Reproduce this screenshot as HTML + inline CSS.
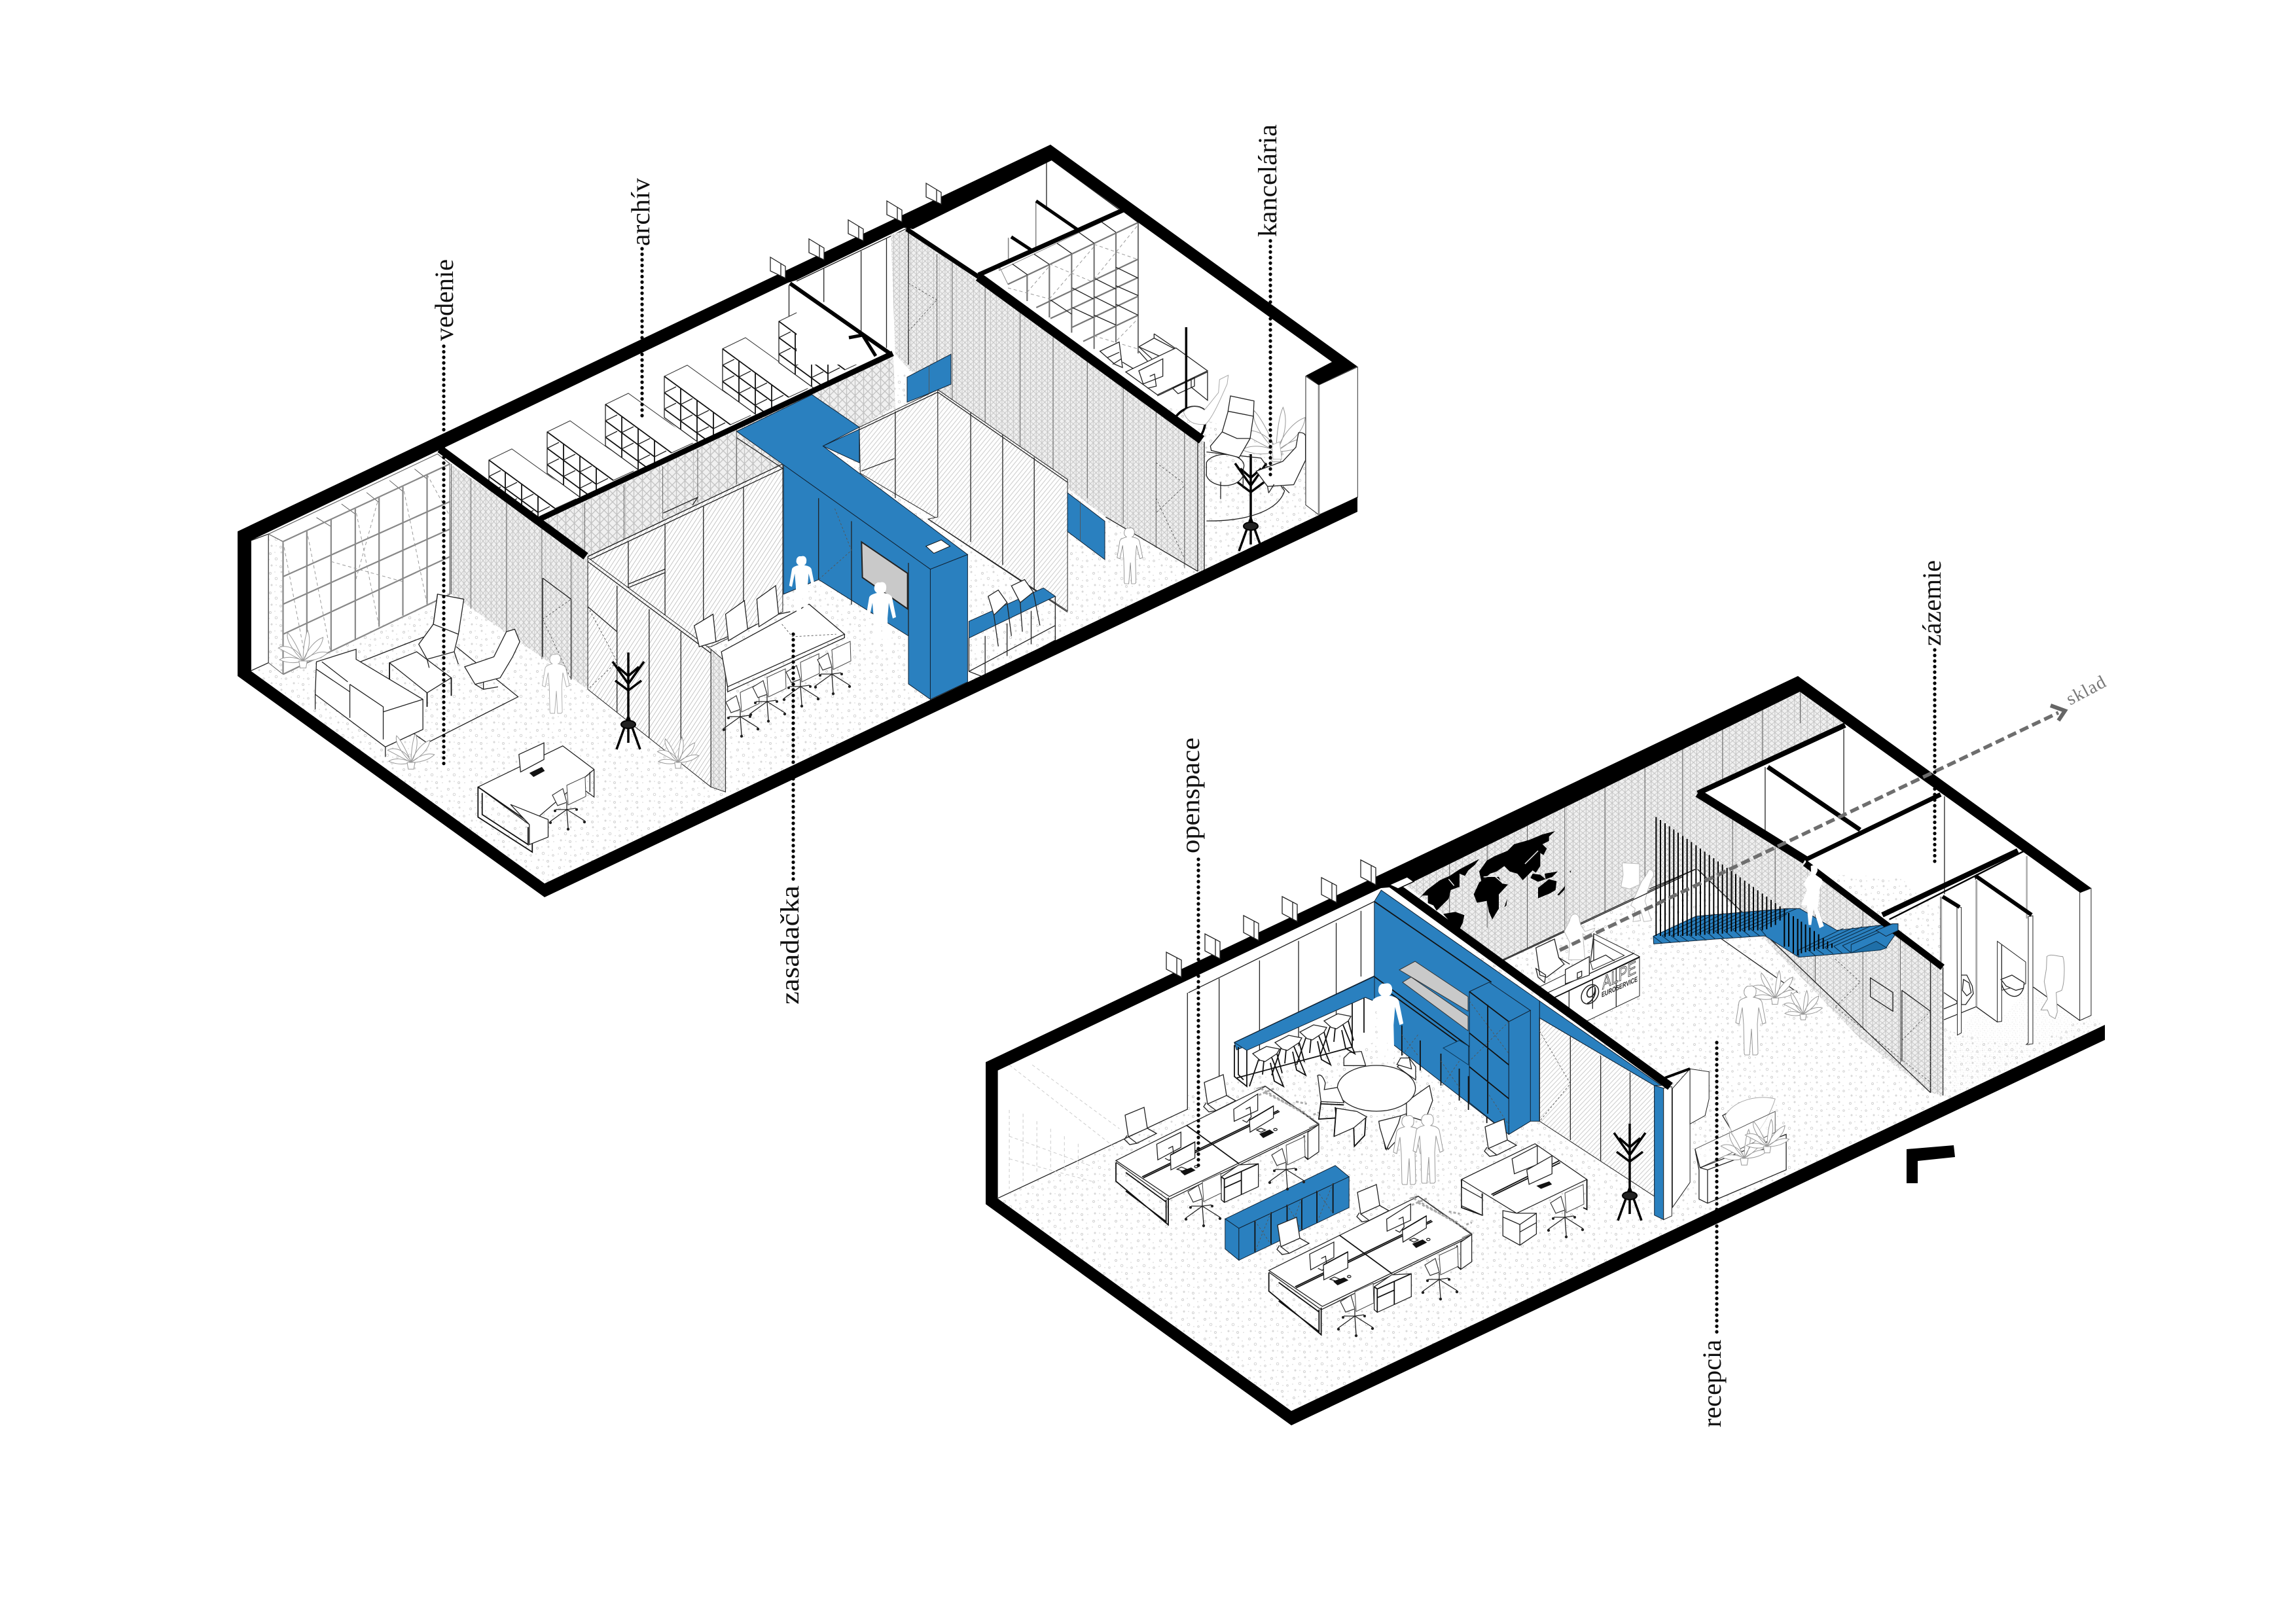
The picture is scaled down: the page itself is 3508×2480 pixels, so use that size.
<!DOCTYPE html>
<html><head><meta charset="utf-8"><title>Isometric office plan</title>
<style>
html,body{margin:0;padding:0;background:#fff}
svg{display:block}
.k *{vector-effect:non-scaling-stroke}
.l{fill:none;stroke:#222;stroke-width:1.3}
.t{fill:none;stroke:#555;stroke-width:.9}
.w{fill:#fff;stroke:#222;stroke-width:1.3}
.b{fill:#2a80bf;stroke:#123;stroke-width:1}
.h{fill:none;stroke:#111;stroke-width:1.8}
.g{fill:none;stroke:#999;stroke-width:1;stroke-dasharray:5 4}
.pl{fill:#fff;stroke:#aaa;stroke-width:1}
.lb{font-family:"Liberation Serif",serif;font-size:40px;fill:#111}
.dot{fill:none;stroke:#000;stroke-width:5.2;stroke-linecap:round;stroke-dasharray:.1 8.4}
</style></head><body>
<svg width="3508" height="2480" viewBox="0 0 3508 2480" xmlns="http://www.w3.org/2000/svg">
<defs>
<pattern id="sp" width="34" height="30" patternUnits="userSpaceOnUse">
<g fill="none" stroke="#cfcfcf" stroke-width=".9"><circle cx="5" cy="6" r="1.5"/><circle cx="22" cy="4" r="1"/><circle cx="14" cy="14" r="1.8"/><circle cx="29" cy="17" r="1.3"/><circle cx="7" cy="24" r="1"/><circle cx="21" cy="26" r="1.5"/></g>
<g fill="#d2d2d2"><circle cx="12" cy="4" r=".8"/><circle cx="28" cy="9" r=".8"/><circle cx="3" cy="15" r=".8"/><circle cx="22" cy="17" r=".8"/><circle cx="14" cy="24" r=".8"/><circle cx="30" cy="26" r=".8"/></g>
</pattern>
<pattern id="pf" width="13" height="13" patternUnits="userSpaceOnUse">
<rect width="13" height="13" fill="#f0f0f0"/><path d="M0 0L6.5 6.5L13 0M0 13L6.5 6.5L13 13M6.5 0V13" fill="none" stroke="#c2c2c2" stroke-width="1.3"/>
</pattern>
<pattern id="gl" width="8" height="8" patternUnits="userSpaceOnUse" patternTransform="rotate(-52)">
<rect width="8" height="8" fill="#fff"/><path d="M0 4H8" stroke="#c0c0c0" stroke-width="1.3"/>
</pattern>

<g id="oc" class="k">
<path fill="#fff" stroke="#444" stroke-width="1" d="M0 -37L28 -50L29 -20L2 -7Z"/>
<path fill="#fff" stroke="#333" stroke-width="1.2" d="M-22 -22L-6 -32L0 -11L-14 -6Z"/>
<path class="l" d="M0 -10V0M0 0L-25 18M0 0L2 28M0 0L27 17M0 0L14 -2M0 0L-17 0"/>
<g fill="#222"><circle cx="-25" cy="20" r="2.2"/><circle cx="2" cy="30" r="2.2"/><circle cx="27" cy="19" r="2.2"/><circle cx="15" cy="0" r="2"/><circle cx="-18" cy="2" r="2"/></g>
</g>
<g id="rc" class="k">
<path class="w" d="M-13 -23L16 -35L21 -3L-8 10Z"/>
<path class="l" d="M21 -3L35 5L5 20L-8 10M-10 8L-14 14L-6 22L5 20"/>
</g>
<g id="stool" class="k">
<path class="w" d="M-19 0L2 -11L22 -7L18 0L0 12L-8 10Z"/>
<path class="h" stroke-width="1.5" d="M-10 9L-24 50M-2 11L-4 32M10 6L28 50L14 42L8 14M18 0L26 30"/>
</g>
<path id="pn" d="M-3 -100c6 -2 10 3 9 9c0 4 -2 6 -4 7c5 1 11 2 13 7l6 30l-5 2l-6 -24l-2 24l1 43l-2 2h-6l-2 -38l-3 38h-7l-1 -2l-1 -43l-2 -24l-5 24l-5 -2l5 -30c1 -4 8 -6 12 -7c-3 -2 -5 -5 -4 -9c0 -4 3 -6 5 -7z"/>
<g id="rack" class="k" fill="none" stroke="#000" stroke-width="3.5">
<path d="M0 -118V0M0 -20L-18 30M0 -20L18 30M0 -20L0 20M0 -70L-24 -104M0 -70L24 -104M0 -82L-16 -96M0 -82L16 -96M0 -60L-20 -75M0 -60L20 -75"/>
<ellipse cx="0" cy="-8" rx="11" ry="6" fill="#222" stroke-width="2"/>
</g>
<g id="plant" class="k" fill="#fff" stroke="#999" stroke-width="1">
<path d="M0 0C-6 -20 -30 -30 -42 -22C-30 -16 -16 -8 0 0ZM0 0C-10 -26 -20 -42 -26 -48C-30 -36 -16 -16 0 0ZM0 0C0 -22 4 -44 8 -52C14 -36 10 -16 0 0ZM0 0C8 -22 22 -36 34 -40C32 -22 16 -10 0 0ZM0 0C14 -12 30 -18 42 -14C32 -4 16 0 0 0ZM0 0C-14 -8 -32 -8 -40 -2C-26 4 -12 4 0 0Z"/>
<path d="M-7 0h14l-2 12h-10z"/>
</g>
<g id="sh" class="k">
<path fill="#fff" stroke="#333" stroke-width="1" d="M0 0L35 -17L138 57L101 74Z"/>
<path fill="#fff" d="M0 0L101 74V130H75L0 63Z"/>
<path class="h" stroke-width="1.7" d="M0 0L101 74M0 25L75 80M0 50L75 105M25 18V81M50 36V99M75 55V118"/>
<path class="l" d="M0 0V63L75 118M0 25L18 16M25 43L43 34M50 61L68 52M75 80L93 71M0 50L18 41M25 68L43 59M50 86L68 77"/>
</g>
<g id="cluster" class="k">
<path class="w" d="M-45 640L640 300L885 475L200 805Z"/>
<path class="h" d="M75 715L700 410M80 720L705 415M278 478L520 655"/>
<path class="l" d="M-45 648L195 820L885 482"/>
<path class="h" stroke-width="2" d="M-45 650V735L195 935V810M0 780L185 920V820M0 695L185 830"/>
<path class="w" d="M835 510L885 475V600L835 635Z"/>
<path class="h" d="M818 525V620L835 635"/>
<path class="w" d="M438 715L518 660L608 655V760L452 832L438 820Z"/>
<path class="h" d="M438 715L452 725L608 655M452 725V832M530 690V795M452 765L530 730"/>
<path class="w" d="M142 565L253 510V580L147 637Z"/>
<path class="l" d="M195 585L215 575L220 615L200 640L180 630"/>
<path class="w" d="M205 615L317 555V628L207 683Z"/>
<path class="h" d="M205 615L317 555"/>
<path class="w" d="M495 405L605 335V410L497 460Z"/>
<path class="l" d="M550 405L570 395L575 440L555 465L535 455"/>
<path class="w" d="M567 455L677 390V445L570 510Z"/>
<path class="h" d="M567 455L677 390"/>
<path class="l" d="M235 680L255 670L280 680L260 688ZM600 500L620 492L640 500L620 510ZM315 668a8 5 0 1 0 16 0a8 5 0 1 0 -16 0M678 498a8 5 0 1 0 16 0a8 5 0 1 0 -16 0"/>
<path fill="#111" d="M250 690L300 672L320 685L270 708ZM612 518L660 498L680 512L630 537Z"/>
<path fill="none" stroke="#aaa" stroke-width="3" stroke-dasharray="4 3" d="M620 310L860 450M640 330L820 420M610 340L680 310M780 370L830 380M860 430L885 420"/>
<path class="t" d="M600 310L640 298L885 470L840 490"/>
</g>
</defs>

<!-- ============ FLOORS ============ -->
<polygon fill="url(#sp)" points="383,1025 832,1350 1640,970 2074,760 2074,745 1995,700 1840,640 1780,620 1400,560 900,800 383,820"/>
<polygon fill="url(#sp)" points="1524,1831 1813,1695 1813,1670 1905,1628 2100,1530 2300,1400 2600,1330 2900,1340 3140,1510 3215,1566 1973,2156"/>

<!-- ============ TOP PLAN, BACK ============ -->
<g class="k" transform="translate(340,200) scale(.6378,.7653)">
<path class="w" d="M68 818L110 805V1062L68 1078Z"/>
<path fill="#fff" d="M145 820L545 665V920L145 1085Z"/>
<path fill="#fff" stroke="#666" stroke-width="1.2" d="M110 805L515 645L545 665L145 820Z"/>
<path class="t" d="M110 805V1062L145 1085M225 772L260 790M285 745L318 765M345 722L375 742M400 698L432 720M460 675L490 695"/>
<g fill="none" stroke="#888" stroke-width="2.2">
<path d="M145 820V1085M202 798V1062M260 775V1038M318 752V1015M375 730V990M432 708V968M490 686V945M545 665V925"/>
<path d="M145 890L545 740M145 945L545 795M145 1005L545 850M145 1085L545 925M145 820L545 665"/>
</g>
<path class="g" d="M145 820L200 1060M202 798L258 1038M318 752L375 990M432 708L490 945M490 686L545 770M260 860L432 900M375 730L318 900"/>
<path fill="#fff" d="M530 640L1355 300L1540 455L770 775Z"/>
<path class="l" d="M1357 308V395"/>
</g>

<!-- archive shelf units -->
<use href="#sh" x="747" y="703"/><use href="#sh" x="836" y="660"/><use href="#sh" x="925" y="618"/><use href="#sh" x="1015" y="575"/><use href="#sh" x="1104" y="533"/><use href="#sh" x="1190" y="491"/>

<g class="k" transform="translate(1100,200) scale(.6697,.6378)">
<path fill="#fff" d="M175 360L430 232V560H175Z"/>
<path class="l" d="M175 360L430 232M237 330V410M322 288V480M380 258V520M425 238V530"/>
<path class="l" d="M745 75V190M757 70L910 188"/>
</g>

<!-- kancelaria detail -->
<g class="k" transform="translate(1540,300) scale(.3333)">
<path d="M128 25V235M2 190V300" stroke="#888" stroke-width="1.6" fill="none"/>
<path d="M0 403L597 120V720L400 720L0 470Z" fill="#fff"/>
<path d="M-40 320L0 403L597 120L530 70L-40 340Z" fill="#fff" stroke="#888" stroke-width="1"/>
<g fill="none" stroke="#777" stroke-width="2.2">
<path d="M0 403L597 120M88 360V480M190 312V555M292 262V625M395 215V700M495 165V670M597 120V720"/>
<path d="M130 510L597 288M195 560L597 372M295 600L597 458M345 665L597 545"/>
</g>
<path class="l" stroke="#444" d="M20 310L90 360M120 265L190 312M225 215L292 262M325 165L395 215M430 118L495 165M530 70L597 120M195 475L292 540M295 420L392 470M395 375L495 425M495 325L597 375M295 510L392 555M395 460L495 510M495 410L597 455M395 545L495 590M495 495L597 545"/>
<path class="g" d="M0 420L190 470M190 310L395 395M190 470L395 230M395 220L597 290M395 380L597 130M88 440L190 320M395 640L597 700M500 660L597 560"/>
<path class="w" d="M600 690L670 650L765 700L700 735Z"/>
<path class="l" d="M670 630L765 695M670 630V650M600 690L660 745M600 710L640 755"/>
<path class="w" d="M540 805L770 695L915 800L685 910Z"/>
<path class="l" d="M685 915L915 805V935L840 875V835M755 880L855 830V870L780 905Z"/>
<path class="w" d="M422 710L510 668L525 785L490 770Z"/>
<path class="l" d="M525 760L575 790M455 740L510 715M480 770L520 745"/>
<path class="w" d="M600 800L710 745V825L620 860Z"/>
<path class="l" d="M650 825L672 815L680 870L640 880"/>
</g>

<!-- perforated big right wall & partition -->
<g class="k" transform="translate(1100,200) scale(.6697,.6378)">
<path fill="url(#pf)" d="M390 248L430 238L1105 745V1058L1090 1055L880 925L430 570L400 535Z"/>
<path class="t" d="M495 295V590M530 315V646M605 371V703M685 431V764M760 487V821M838 545V880M920 606V942M995 663V999M1060 711V1048"/>
<path class="l" d="M1090 735V1055M1105 745V1058M430 240V560M1090 1055L880 925"/>
<path class="t" stroke-dasharray="3 3" d="M430 480L495 405M430 365L495 405M430 365V480M995 795L1060 845V1030M995 795V915L1060 850M995 880L1060 1025"/>
<path fill="url(#pf)" d="M38 720L395 535L400 660L318 710L235 755L145 800Z"/>
<path class="t" d="M240 633V750M300 598V710M360 560V680"/>
</g>

<!-- archive perf wall, real coords -->
<polygon fill="url(#pf)" points="825,793 1364,540 1367,620 1312,650 1195,720 895,860"/>
<g class="k" transform="translate(740,560) scale(.3333)">
<path class="t" d="M460 625V850M640 540V800M818 458V700M978 380V620M1157 290V540"/>
<path class="l" d="M820 672L978 600L955 635"/>
</g>

<!-- ============ LEFT GLASS ROOM ============ -->
<g class="k" transform="translate(340,200) scale(.6378,.7653)">
<path fill="url(#pf)" d="M545 665L875 850V1115L548 925Z"/>
<path class="t" d="M595 694V954M680 743V1005M765 793V1055M835 833V1096M548 665V925"/>
<path class="l" d="M767 893L835 935V1095M767 893V1050"/>
<path class="t" stroke-dasharray="3 3" d="M767 975L835 935M767 975L835 1095"/>
<path fill="url(#gl)" stroke="#222" d="M875 850L1342 665V960L1170 1030H875Z"/>
<path class="l" d="M875 850L1342 665M875 858L1342 674M972 820V1030M1060 785V1030M1152 750V1030M1248 712V985M972 905L1060 875M972 912L1060 882"/>
<path fill="url(#gl)" stroke="#222" d="M875 852L1170 1035V1310L875 1115Z"/>
<path class="l" d="M875 860L1170 1043M945 908V1160M1022 955V1212M1098 1000V1262M875 950L945 1000"/>
<path class="t" stroke-dasharray="3 3" d="M875 950L945 1060L875 1115"/>
<path fill="url(#pf)" stroke="#222" d="M1170 1035L1205 1060V1320L1170 1310Z"/>
<path class="w" d="M1195 1040L1405 945L1490 1005L1210 1110Z"/>
<path class="l" d="M1210 1110V1120L1490 1012V1005"/>
<path class="t" stroke-dasharray="3 3" d="M1340 985L1365 1010L1470 1005"/>
<path class="w" d="M1130 988L1175 965L1182 1020L1142 1030Z"/>
<path class="w" d="M1205 965L1250 938L1258 995L1212 1018Z"/>
<path class="w" d="M1280 935L1325 908L1332 965L1285 990Z"/>
<path class="l" d="M1182 1020L1210 1010M1258 995L1280 985M1332 965L1360 960"/>
<path class="l" d="M330 1060L560 985M560 1030L708 1130L490 1222L400 1170"/>
<path class="w" d="M225 1060L320 1035L320 1055L480 1135V1195L390 1230L222 1125Z"/>
<path class="l" d="M238 1060L300 1100M305 1105V1172M305 1105L385 1150V1215M225 1075L305 1120M385 1160L480 1135M222 1125V1155M390 1230V1250"/>
<path class="w" d="M400 1062L465 1040L548 1092L490 1122Z"/>
<path class="h" d="M400 1062V1095M490 1122V1150M548 1092V1128" stroke-width="2.5"/>
<path class="w" d="M515 925L578 935L565 1005L555 1040L490 1055L470 1025L505 985Z"/>
<path class="l" d="M515 925L505 985L565 1005M490 1055L495 1072M555 1040L565 1065"/>
<path class="w" d="M680 1000L700 995L712 1020L695 1050L665 1092L605 1105L580 1070L650 1050Z"/>
<path class="l" d="M605 1105L625 1115L660 1110M625 1115V1100"/>
<path class="w" d="M612 1310L815 1228L890 1275L735 1385Z"/>
<path class="h" d="M612 1310V1370L742 1440V1385L612 1310M622 1322V1365L732 1425V1390"/>
<path class="w" d="M690 1345L780 1375V1410L735 1425V1385Z"/>
<path class="l" d="M890 1275V1330L865 1315M880 1280V1320"/>
<path class="w" d="M710 1245L770 1222V1255L714 1280Z"/>
<path fill="#111" d="M735 1282L765 1270L772 1278L745 1290Z"/>
</g>

<!-- ============ RIGHT GLASS ROOM + BLUE ============ -->
<g class="k" transform="translate(1100,200) scale(.6697,.6378)">
<path fill="url(#gl)" stroke="#222" d="M318 710L497 620V930L320 820Z"/>
<path class="l" d="M318 716L497 626M400 672V880M323 815L398 785"/>
<path fill="url(#gl)" stroke="#222" d="M497 620L793 835V1150L475 930L497 925Z"/>
<path class="l" d="M497 626L793 842M572 675V985M645 728V1040M717 782V1100M475 930L793 1153"/>
<path class="b" d="M427 590L527 535V607L475 630L427 650Z"/>
<path class="t" d="M477 562V630"/>
<path class="b" d="M793 867L878 935V1027L793 960Z"/>
<path class="t" d="M822 888V982"/>
<path class="b" d="M568 1175L738 1095L765 1115L568 1215Z"/>
<path class="l" d="M568 1215V1295L605 1310L765 1220V1115M605 1210V1310M655 1180V1258M710 1150V1230M568 1295L765 1185"/>
<path class="w" d="M612 1115L635 1100L655 1130L625 1160Z"/>
<path class="w" d="M665 1090L695 1075L715 1105L685 1130Z"/>
<path class="l" d="M625 1160L635 1235M655 1130L665 1210M685 1130L690 1200M715 1105L730 1185"/>
<path class="b" d="M235 755L318 715V795Z"/>
<path class="b" d="M145 800L480 1050V1362L430 1325V1210L225 1075L145 1110Z"/>
<path class="b" d="M480 1050L565 1015V1320L480 1362Z"/>
<path class="b" d="M38 720L210 632L318 710L235 755L565 1015L480 1050L145 800Z"/>
<path class="l" stroke="#123" d="M38 735L145 810M225 880V1075M300 935V1135M430 1035V1210"/>
<path class="t" stroke-dasharray="3 3" d="M262 905L300 1005L225 1075"/>
<path fill="#fff" stroke="#111" d="M470 995L505 980L525 995L488 1012Z"/>
<path fill="#c9c9c9" stroke="#222" stroke-width="2" d="M323 985L428 1060V1145L325 1070Z"/>
</g>

<!-- ============ TOP FURNITURE ============ -->
<use href="#oc" x="1131" y="1095"/><use href="#oc" x="1172" y="1072"/><use href="#oc" x="1223" y="1049"/><use href="#oc" x="1271" y="1030"/><use href="#oc" x="866" y="1237"/>
<g class="k">
<use href="#pn" transform="translate(1227,935) scale(.85)" fill="#fff"/>
<use href="#pn" transform="translate(1348,990) scale(1)" fill="#fff"/>
<use href="#pn" transform="translate(1728,892) scale(.85)" fill="#fff" stroke="#888" stroke-width="1"/>
<use href="#pn" transform="translate(851,1090) scale(.9)" fill="#fff" stroke="#aaa" stroke-width="1"/>
<use href="#rack" x="960" y="1115"/>
<use href="#rack" x="1911" y="812"/>
<use href="#plant" transform="translate(463,1010) scale(.9)"/>
<use href="#plant" transform="translate(628,1165) scale(.85)"/>
<use href="#plant" transform="translate(1036,1165) scale(.75)"/>
<use href="#plant" transform="translate(1950,690) scale(1.3)"/>
</g>

<g class="k" transform="translate(1780,500) scale(.3333)">
<path class="l" stroke-width="1.6" d="M190 572L440 600L548 750C520 840 380 890 190 888"/>
<path stroke="#000" stroke-width="3.5" fill="none" d="M97 0V370M50 410C80 370 140 350 180 380C195 420 180 480 160 500"/>
<path fill="#fff" stroke="#aaa" d="M290 220L250 240L245 300L205 350L180 380C140 350 95 370 85 390C100 430 130 450 185 445C215 420 250 340 285 260Z"/>
<path class="l" fill="#fff" stroke-width="1.8" d="M190 620A85 50 0 0 1 358 650A85 60 0 0 1 190 680ZM255 710V788M358 680V738"/>
<path class="w" stroke-width="2" d="M300 315L408 338L405 408L390 510L340 597L212 565L208 545L262 480L288 390Z"/>
<path class="l" d="M288 385L405 408M262 480L330 510L392 510"/>
<path class="w" stroke-width="2" d="M612 484C630 480 644 490 644 500V610L590 722L470 730L418 660L540 615L600 550Z"/>
<path class="l" d="M470 730L475 760M540 730L570 760M500 720L475 760"/>
<path fill="#fff" stroke="#bbb" d="M490 540L525 525L535 605L495 605Z"/>
<path fill="#fff" stroke="#222" d="M645 225L705 265V860L645 815Z"/>
<path fill="#fff" stroke="#333" d="M705 265L883 182V780L705 860Z"/>
<path stroke="#888" stroke-width="2.6" d="M705 265V860"/>
</g>

<!-- ============ BOTTOM PLAN BACK ============ -->
<g class="k" transform="translate(2100,850) scale(.7653,.6378)">
<path fill="url(#pf)" d="M60 785L850 325L940 400L645 565V750L250 970L130 850Z"/>
<path class="t" d="M150 737V885M225 692V890M305 645V940M380 601V897M460 554V851M540 507V806M615 463V762M695 415V537M775 368V492M850 325V400"/>
<path class="l" d="M250 970L640 750"/>
<path class="l" d="M780 505V695M937 415V630M1138 575V820M1200 770V1000"/>
<path fill="url(#pf)" d="M645 565L860 735L1135 985V1292L1110 1285L965 1150L645 750Z"/>
<path class="t" d="M715 625V830M800 698V928M880 766V1020M975 848V1130M1050 912V1216"/>
<path class="l" d="M1110 960V1285M1135 985V1292M1110 1285L645 750"/>
<path class="l" d="M990 1010L1035 1045V1090L990 1055ZM1053 1040L1110 1090V1285M1053 1040V1210"/>
<path class="t" stroke-dasharray="3 3" d="M920 965L970 1020L920 1080M920 1080L1110 1260M1053 1160L1110 1090"/>
</g>

<!-- map, reception -->
<g class="k" transform="translate(2150,1260) scale(.3333)">
<g fill="#000">
<path d="M48 345L90 300L150 255L195 235L240 205L330 158L310 185L280 210L265 235L240 225L240 285L200 300L190 340L150 380L135 395L120 370L95 360L95 325L70 325Z"/>
<path d="M165 410L220 400L262 415L255 450L240 480L205 455Z"/>
<path d="M305 320L330 265L365 240L420 240L435 270L462 275L420 320L420 385L390 435L375 400L365 350L320 358Z"/>
<path d="M330 215L365 165L400 145L460 120L490 90L560 70L620 45L678 30L650 55L650 75L620 90L640 110L625 140L610 130L610 190L590 220L575 210L530 255L505 225L470 215L445 190L410 215L380 225L340 260Z"/>
<path d="M565 245L575 225L610 230L635 250L600 262ZM630 225L690 215L665 240L635 250Z"/>
<path d="M600 290L650 250L685 260L680 300L655 315L600 338Z"/>
<path d="M688 322L725 280L720 300L695 325ZM445 380L458 340L455 370ZM745 215L752 210L748 222Z"/>
</g>
<path fill="none" stroke="#ececec" stroke-width="1.5" d="M350 240L400 235L440 270M540 180L600 120M190 250L215 280"/>
<path fill="#fff" stroke="#bbb" d="M985 175L1065 180L1065 275L1020 295L980 285L990 230Z"/>
<path fill="#fff" stroke="#bbb" d="M1110 205C1135 210 1135 235 1120 250L1100 310L1090 350L1120 440L1085 445L1070 390L1065 420L1070 440L1035 445L1045 385L1025 370L1055 305L1075 260L1090 240Z"/>
<path class="l" d="M430 628L1260 240"/>
<path fill="#fff" stroke="#bbb" d="M745 440C750 400 790 400 790 440L795 460L815 490L860 475L855 490L820 510L805 500L815 620L740 620L745 540L720 490Z"/>
<path class="w" d="M590 565L675 525L695 610L720 640L640 700L608 690Z"/>
<path class="l" d="M695 610L745 640M590 660L635 690L630 725L600 700ZM595 750L725 690"/>
<path fill="#fff" stroke="#222" d="M855 500L1065 605L660 800L595 750L840 630Z"/>
<path fill="#fff" stroke="#222" d="M855 525L995 600L850 665L840 630Z"/>
<path class="l" d="M855 500V625M840 630L910 598L950 625M635 775L1040 590"/>
<path fill="#fff" stroke="#222" d="M660 800L1065 608V785L825 900Z"/>
<path class="l" d="M742 762V860M850 712V845M958 660V835"/>
<path class="h" stroke-width="2" d="M660 800L1065 608"/>
<path class="w" d="M725 665L835 605V690L725 730Z"/>
<path class="l" d="M780 680L800 672V695L780 705Z"/>
<ellipse cx="838" cy="778" rx="35" ry="48" transform="rotate(35 838 778)" fill="none" stroke="#222" stroke-width="1.5"/>
<path d="M860 740C830 745 815 775 830 790C850 795 865 770 860 745C870 775 850 810 825 820" fill="none" stroke="#222" stroke-width="1.8"/>
</g>
<text transform="matrix(1,-.484,0,1,2448,1512)" font-family="Liberation Sans,sans-serif" font-size="28" textLength="52" lengthAdjust="spacingAndGlyphs" fill="#fff" stroke="#222" stroke-width=".9">ALPE</text>
<text transform="matrix(1,-.45,0,1,2447,1524)" font-family="Liberation Sans,sans-serif" font-weight="bold" font-size="11" textLength="55" lengthAdjust="spacingAndGlyphs" fill="#222">EUROSERVICE</text>

<!-- stair -->
<g class="k" transform="translate(2520,1240) scale(.3333)">
<path class="l" d="M325 580L680 830M210 265L0 355"/>
<path class="b" d="M18 572L215 480L630 445L690 445L860 545L1115 515L1140 515V545L1085 625L925 648L685 668L530 570L300 585L20 607Z"/>
<path fill="none" stroke="#0b2f4a" stroke-width="1.1" d="M18 572L60 605M58 570L100 602M100 570L140 600M140 570L180 597M180 565L220 592M220 560L262 590M262 552L302 585M302 548L342 582M342 545L382 578M382 540L422 575M422 540L462 572M462 537L505 570M505 535L535 570M18 572L215 480M58 570L260 475M100 570L300 470M140 570L340 467M180 565L380 465M220 560L425 460M262 552L468 458M302 548L512 455M342 545L555 452M382 540L600 448M422 540L640 445M462 537L675 445M505 535L630 470M685 635V668M722 630L760 660M762 628L800 655M804 622L842 652M845 618L885 650M885 615L925 648M925 610V648M685 635L890 535M722 630L935 533M762 628L975 528M804 622L1015 525M845 618L1065 520M885 615L1115 515M925 610L1140 515"/>
<path fill="#1f6fa8" stroke="#0b2f4a" d="M925 648L1040 595L1088 625L1060 635Z"/>
<path stroke="#000" stroke-width="2" fill="none" d="M31 25V570M51 39V570M72 54V575M92 68V570M112 82V575M132 97V570M153 112V570M173 126V570M193 140V570M214 155V570M234 170V565M254 184V565M275 199V560M295 214V560M315 229V560M335 243V560M356 258V555M376 273V550M396 287V550M416 302V550M437 317V550M457 332V545M477 346V545M497 361V545M518 376V545M538 390V540M558 405V530M578 420V520M599 435V500M619 445V620M639 465V620M660 480V650M680 492V660M697 505V650M716 518V645M736 532V640M756 548V640M776 563V630M797 580V630M817 595V628M837 605V625"/>
</g>

<!-- bottom: left white wall, blue wall etc -->
<g class="k" transform="translate(1500,1300) scale(.7015,.574)">
<path fill="#fff" d="M450 378L855 135V510L450 645Z"/>
<path class="l" d="M450 378L855 135M448 378V688L35 925M517 340V610M605 292V560M690 240V520M772 192V460M826 160V335"/>
<path class="t" d="M35 585V925"/>
<path fill="none" stroke="#ccc" stroke-width="1" stroke-dasharray="5 4" d="M60 570L290 790M110 570L300 740M60 690V900M90 700V880M120 720V860M150 740V850M180 760V850M210 780V840M60 760L240 840M60 820L240 880"/>
<path class="b" d="M855 135L870 105L1215 400V720L1195 720L1148 755L890 510L885 440L855 400Z"/>
<path class="b" d="M855 333L855 400L835 390L555 530L550 510Z"/>
<path class="h" stroke="#0d3a5c" stroke-width="1.2" d="M855 135L1110 350M855 335L1060 520L1148 600M885 375L1060 530M915 465V545M955 505V585M1000 540V625M1040 580V665M1060 600V690M1100 640V725"/>
<path class="b" d="M1062 375L1105 350L1195 425L1148 455L1148 755L1062 670Z"/>
<path class="b" d="M1148 455L1195 425V720L1148 755Z"/>
<path class="h" stroke="#0d3a5c" stroke-width="1.2" d="M1062 375L1148 455M1102 410V700M1062 485L1148 570M1062 575L1148 660"/>
<path fill="#2a80bf" stroke="#0d3a5c" d="M1005 525L1040 505L1060 520V570Z"/>
<path class="t" stroke="#0d3a5c" stroke-dasharray="3 3" d="M1062 400L1148 540M1148 455L1062 560M915 490L950 545M950 490L915 545M1000 560L1040 630M1040 560L1000 630M1105 650L1148 730"/>
<path fill="url(#gl)" stroke="#222" d="M1215 445L1465 625V920L1215 720Z"/>
<path class="l" d="M1282 495V770M1348 545V825M1412 590V880M1215 445V720"/>
<path class="t" stroke-dasharray="3 3" d="M1215 480L1282 620L1215 720"/>
<path class="b" d="M1215 400L1480 625L1465 625L1215 445Z"/>
<path class="b" d="M1465 625L1485 632V982L1465 970Z"/>
<path fill="#fff" stroke="#222" d="M1485 632L1503 628V972L1485 982Z"/>
<path class="b" d="M530 980L770 838L800 868L560 1005Z"/>
<path class="b" d="M530 980L560 1005V1090L530 1060Z"/>
<path class="b" d="M560 1005L800 868V950L560 1090Z"/>
<path class="h" stroke="#0d3a5c" stroke-width="1.2" d="M595 985V1068M630 962V1048M665 942V1030M697 925V1010M730 905V990M765 885V965"/>
<path class="t" stroke="#0d3a5c" stroke-dasharray="3 3" d="M595 985L630 1048M630 962L595 1068M665 942L697 1010M697 925L665 1030M730 905L765 965M765 885L730 990"/>
<path class="w" d="M1045 875L1205 780L1318 875L1165 965Z"/>
<path class="h" d="M1110 915L1258 825M1113 918L1260 830M1318 875V955L1310 950M1045 875V950L1090 970V912"/>
<path class="w" d="M1045 895L1090 925V970L1045 945Z"/>
<path class="w" d="M1135 958L1165 965L1208 965V1020L1172 1050L1135 1025Z"/>
<path class="l" d="M1172 995V1050M1172 995L1208 965M1135 975L1172 995M1172 1015L1208 990"/>
<path class="w" d="M1155 820L1210 785V835L1160 860Z"/>
<path class="w" d="M1187 850L1242 812V860L1192 888Z"/>
<path fill="#111" d="M1208 892L1236 880L1242 888L1218 900Z"/>
<path class="w" d="M905 575L930 550L945 575L945 610Z"/>
<path class="w" d="M925 668L975 625L982 665L965 720L925 705Z"/>
<path class="w" d="M868 725L925 700L920 750L885 795Z"/>
<path class="h" d="M868 725L880 795M925 705L925 720"/>
</g>
<!-- grey shelves, bar frame -->
<g class="k">
<path fill="#c9c9c9" stroke="#333" d="M2138 1482L2162 1469L2243 1523V1545Z"/>
<path fill="#c9c9c9" stroke="#333" d="M2143 1501L2156 1493L2243 1553V1575Z"/>
<path class="h" stroke-width="1.6" d="M1886 1597V1645L1905 1660V1605M1892 1600V1642L1900 1650M1890 1647L2066 1600M2066 1520V1600M2084 1525V1578"/>
<path fill="#2a80bf" stroke="#123" d="M1886 1593L2100 1492V1530L2086 1524L1905 1605Z"/>
</g>
<!-- desks -->
<g transform="translate(1720,1560) scale(.3333)">
<use href="#cluster"/>
<use href="#cluster" x="701" y="504"/>
<g class="k">
<path class="w" d="M1000 205L1000 170L1025 145L1080 140L1100 205Z"/>
<path class="w" d="M1243 200L1260 170L1300 170L1310 220Z"/>
<ellipse class="w" stroke-width="2" cx="1149" cy="309" rx="179" ry="105"/>
<path class="w" d="M880 250Q900 240 915 285L910 315L970 305L1000 375L895 370Z"/>
<path class="h" d="M895 370L885 450L965 445L960 395M895 380L1000 385"/>
<path class="w" d="M965 400L1060 415L1105 440L1045 490L955 530Z"/>
<path class="h" d="M965 400L955 530M1045 490L1048 575L1095 525L1100 445"/>
<path class="w" d="M1160 460L1260 435L1250 470L1195 590L1165 490Z"/>
</g>
</g>

<use href="#oc" x="1837" y="1843"/><use href="#oc" x="1965" y="1787"/><use href="#oc" x="2070" y="2011"/><use href="#oc" x="2199" y="1955"/><use href="#oc" x="2391" y="1860"/>
<use href="#rc" x="1732" y="1727"/><use href="#rc" x="1853" y="1677"/><use href="#rc" x="1965" y="1895"/><use href="#rc" x="2087" y="1845"/><use href="#rc" x="2282" y="1745"/>
<use href="#stool" x="1933" y="1610"/><use href="#stool" x="1967" y="1593"/><use href="#stool" x="2005" y="1577"/><use href="#stool" x="2042" y="1560"/>
<g class="k">
<use href="#pn" transform="translate(2120,1618) scale(1.15)" fill="#fff"/>
<use href="#pn" transform="translate(2154,1810) scale(1,1.05)" fill="#fff" stroke="#999" stroke-width="1"/>
<use href="#pn" transform="translate(2184,1808) scale(1,1.05)" fill="#fff" stroke="#999" stroke-width="1"/>
<use href="#pn" transform="translate(2677,1612) scale(1,1.05)" fill="#fff" stroke="#999" stroke-width="1"/>
<use href="#rack" x="2490" y="1835" />
<use href="#plant" transform="translate(2712,1525) scale(.8)"/>
<use href="#plant" transform="translate(2755,1550) scale(.7)"/>
</g>

<!-- recepcia end: planter and column -->
<g class="k" transform="translate(2100,850) scale(.7653,.6378)">
<path fill="#fff" stroke="#222" d="M595 1275L630 1228V1500L595 1560Z"/>
<path fill="#fff" stroke="#222" d="M630 1228L668 1235V1300L660 1340L630 1360Z"/>
<path class="w" d="M695 1340L745 1305L750 1345L710 1370Z"/>
<path class="pl" d="M700 1340C720 1300 770 1290 800 1300C790 1340 760 1400 730 1420C720 1400 710 1370 700 1340Z"/>
<path fill="#fff" fill-opacity=".6" stroke="#555" d="M640 1420L800 1330V1380L650 1465Z"/>
<path class="w" d="M640 1420L650 1465L822 1385V1470L665 1550L648 1540V1470Z"/>
<path class="l" d="M665 1470V1550M650 1465L665 1470L822 1400"/>
</g>
<g class="k"><use href="#plant" transform="translate(2665,1770) scale(.85)"/><use href="#plant" transform="translate(2700,1752) scale(.8)"/></g>

<!-- toilets -->
<g class="k" transform="translate(2880,1280) scale(.3333)">
<path fill="#fff" d="M270 590L260 265L420 190L630 70L895 250V835L680 950L340 905L270 860Z"/>
<path fill="url(#sp)" d="M0 1040L280 870L340 905L418 775L515 845L660 690L890 835L945 815L1007 858L300 1200Z"/>
<path class="l" d="M418 195V775L270 835M418 775L515 845M650 85V370M255 270V570M270 710L330 750V760L270 785"/>
<path fill="#fff" stroke="#222" d="M515 475L645 570V670L535 700V842L515 845Z"/>
<path class="l" d="M535 490V700"/>
<path class="w" d="M532 650L582 630L638 665L635 690L600 700L555 680Z"/>
<path class="l" d="M535 670C545 720 610 760 635 690"/>
<path class="w" d="M348 630L375 630L400 680L405 715L370 765L350 765Z"/>
<path class="w" d="M360 650L385 665L395 710L375 725L355 700Z"/>
<path fill="#fff" stroke="#222" d="M330 315L350 320V895L332 905Z"/>
<path fill="#fff" stroke="#222" d="M657 362L678 358V945L648 948L657 940Z"/>
<path stroke="#aaa" stroke-width="2.4" d="M420 195V775M650 85V370M258 270V570"/>
<path fill="#fff" stroke="#222" d="M893 252L945 232V815L893 838Z"/>
<path class="l" d="M680 685L893 838"/>
<path fill="#fff" stroke="#999" d="M742 545C760 530 790 545 815 545C825 570 825 660 810 700L785 710L790 800L780 830L755 815L745 790L715 790L745 740L730 660L740 600Z"/>
<path d="M20 375L640 60" stroke="#000" stroke-width="2.4"/>
</g>

<!-- ============ POCHÉ ============ -->
<polygon fill="#000" points="363,812 1605,221 2074,560 2015,588 1995,574 2035,553 1607,245 1395,350 1381,348 1217,428 1204,432 383,826 383,1025 832,1350 2074,759 2074,782 832,1371 363,1033"/>
<g stroke="#000" fill="none">
<path stroke-width="12" d="M672 686L895 850"/>
<path stroke-width="8.5" d="M825 793L1364 540"/>
<path stroke-width="6" d="M1207 433L1361 541"/>
<path stroke-width="5" d="M1297 516L1318 512L1338 544"/>
<path stroke-width="7" d="M1385 350L1495 423"/>
<path stroke-width="14" d="M1495 423L1836 672"/>
<path stroke-width="7" d="M1495 420L1716 321"/>
<path stroke-width="5" d="M1583 307L1648 352M1545 362L1577 383"/>
</g>
<polygon fill="#000" points="1506,1623 2747,1033 3195,1357 3178,1364 2750,1057 2146,1354 2110,1357 1524,1636 1524,1831 1973,2156 3216,1566 3216,1589 1973,2178 1506,1840"/>
<g stroke="#000" fill="none">
<path stroke-width="13" d="M2123,1348L2552,1660"/>
<path stroke-width="4" d="M2544 1647L2582 1633"/>
<path stroke-width="8" d="M2594 1212L2819 1108"/>
<path stroke-width="13" d="M2594 1212L2758 1314"/>
<path stroke-width="7" d="M2758 1314L2965 1214M2701 1172L2842 1268"/>
<path stroke-width="8" d="M2876 1398L3083 1300"/>
<path stroke-width="10" d="M2758 1319L2968 1478"/>
<path stroke-width="6" d="M2968 1370L2994 1386M3018 1338L3104 1398"/>
</g>
<path fill="#fff" stroke="#000" stroke-width="1.5" d="M2123 1352L2150 1340L2160 1347L2136 1358Z"/>
<polygon fill="#000" points="2913,1808 2930,1808 2930,1774 2987,1768 2985,1750 2913,1756"/>

<!-- stair end + woman over wall -->
<g class="k" transform="translate(2520,1240) scale(.3333)">
<path class="b" d="M1040 545L1115 515L1140 515V545L1085 572Z"/>
<path fill="#fff" d="M740 250C760 240 775 255 770 275L762 290L790 310L795 325L780 355L775 430L770 440L800 525L780 535L752 445L742 520L730 520L722 430L695 430L722 360L708 330L725 300L742 288Z"/>
</g>

<!-- windows -->
<g fill="#fff" stroke="#222" stroke-width="1.3">
<path d="M1177 393L1200 407V425L1177 414ZM1193 403V421"/>
<path d="M1236 365L1259 379V397L1236 386ZM1252 375V393"/><path d="M1296 336L1319 350V368L1296 357ZM1312 346V364"/><path d="M1355 307L1378 321V339L1355 328ZM1371 317V335"/><path d="M1415 280L1438 294V312L1415 301ZM1431 290V308"/>
<path d="M1782 1455L1805 1467V1493L1782 1481ZM1798 1463V1489"/><path d="M1841 1427L1864 1439V1465L1841 1453ZM1857 1435V1461"/><path d="M1900 1399L1923 1411V1437L1900 1425ZM1916 1407V1433"/><path d="M1959 1370L1982 1382V1408L1959 1396ZM1975 1378V1404"/><path d="M2019 1341L2042 1353V1379L2019 1367ZM2035 1349V1375"/><path d="M2079 1314L2102 1326V1352L2079 1340ZM2095 1322V1348"/>
</g>

<!-- arrow -->
<path d="M2383 1452L3145 1089" fill="none" stroke="#6e6e6e" stroke-width="5.5" stroke-dasharray="14 6.5"/>
<path d="M3133 1078L3155 1086L3145 1101" fill="none" stroke="#666" stroke-width="6"/>
<text transform="translate(3163,1078) rotate(-28)" font-family="Liberation Serif,serif" font-size="28" fill="#777" textLength="64">sklad</text>

<!-- dotted leaders -->
<g class="dot">
<path d="M678 529V1168"/><path d="M981 380V640"/><path d="M1941 368V726"/><path d="M1212 969V1345"/><path d="M1831 1313V1782"/><path d="M2956 993V1316"/><path d="M2623 1593V2040"/>
</g>

<!-- labels -->
<g class="lb">
<text transform="translate(692,521) rotate(-90)" textLength="125" lengthAdjust="spacingAndGlyphs">vedenie</text>
<text transform="translate(992,376) rotate(-90)" textLength="104" lengthAdjust="spacingAndGlyphs">archív</text>
<text transform="translate(1950,362) rotate(-90)" textLength="172" lengthAdjust="spacingAndGlyphs">kancelária</text>
<text transform="translate(1220,1535) rotate(-90)" textLength="182" lengthAdjust="spacingAndGlyphs">zasadačka</text>
<text transform="translate(1832,1304) rotate(-90)" textLength="177" lengthAdjust="spacingAndGlyphs">openspace</text>
<text transform="translate(2965,987) rotate(-90)" textLength="131" lengthAdjust="spacingAndGlyphs">zázemie</text>
<text transform="translate(2629,2181) rotate(-90)" textLength="134" lengthAdjust="spacingAndGlyphs">recepcia</text>
</g>
</svg>
</body></html>
